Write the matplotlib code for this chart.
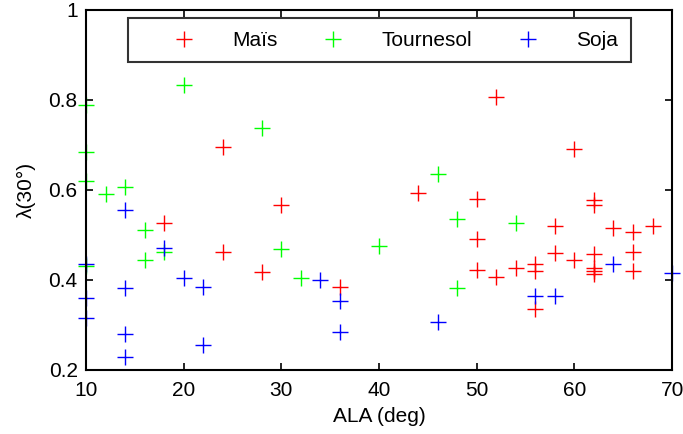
import matplotlib
matplotlib.use("Agg")
import matplotlib.pyplot as plt

plt.rcParams['font.family'] = ['Liberation Sans', 'DejaVu Sans']

mais_x = [18, 24, 24, 28, 30, 36, 44, 50, 50, 50, 52, 52, 54, 56, 56, 56, 58, 58, 60, 60,
          62, 62, 62, 62, 62, 62, 64, 66, 66, 66, 68]
mais_y = [0.527, 0.696, 0.462, 0.418, 0.567, 0.385, 0.593, 0.58, 0.49, 0.422, 0.807, 0.407,
          0.427, 0.436, 0.42, 0.336, 0.52, 0.46, 0.691, 0.444,
          0.578, 0.566, 0.458, 0.427, 0.42, 0.413, 0.515, 0.507, 0.462, 0.42, 0.52]

tour_x = [10, 10, 10, 10, 12, 14, 16, 16, 18, 20, 28, 30, 32, 40, 46, 48, 48, 54]
tour_y = [0.789, 0.684, 0.62, 0.432, 0.591, 0.607, 0.511, 0.444, 0.462, 0.833, 0.737,
          0.469, 0.404, 0.475, 0.636, 0.535, 0.383, 0.527]

soja_x = [10, 10, 10, 14, 14, 14, 14, 18, 20, 22, 22, 34, 36, 36, 46, 56, 58, 64, 70]
soja_y = [0.436, 0.36, 0.316, 0.556, 0.383, 0.28, 0.229, 0.471, 0.405, 0.384, 0.256,
          0.4, 0.353, 0.284, 0.306, 0.364, 0.364, 0.436, 0.415]

labels = ['Maïs', 'Tournesol', 'Soja']
colors = ['#ff0000', '#00ff00', '#0000ff']

FS = 15

fig = plt.figure(figsize=(6.83, 4.34), dpi=100)
ax = fig.add_axes([0.126, 0.1475, 0.858, 0.8295])

for xs, ys, lab, c in zip([mais_x, tour_x, soja_x], [mais_y, tour_y, soja_y], labels, colors):
    ax.plot(xs, ys, linestyle='none', marker='+', markersize=11.5, markeredgewidth=1.0,
            color=c, label=lab, clip_on=False)

ax.set_xlim(10, 70)
ax.set_ylim(0.2, 1.0)
ax.set_xticks([10, 20, 30, 40, 50, 60, 70])
ax.set_yticks([0.2, 0.4, 0.6, 0.8, 1.0])
ax.set_yticklabels(['0.2', '0.4', '0.6', '0.8', '1'])
ax.tick_params(direction='in', top=True, right=True, length=5, width=1.2, labelsize=FS)
ax.tick_params(axis='x', pad=8)
ax.tick_params(axis='y', pad=6)
for s in ax.spines.values():
    s.set_linewidth(1.5)
ax.set_xlabel('ALA (deg)', fontsize=FS, labelpad=5)
ax.set_ylabel('λ(30°)', fontsize=FS, labelpad=9)

leg = ax.legend(loc='upper center', bbox_to_anchor=(0.5, 1.0), ncol=3, fontsize=FS,
                frameon=True, fancybox=False, edgecolor='black', handlelength=4.2,
                handletextpad=0.2, columnspacing=0.6, borderpad=0.6, borderaxespad=0.4)
leg.get_frame().set_linewidth(1.5)

fig.savefig('out.png', dpi=100)
